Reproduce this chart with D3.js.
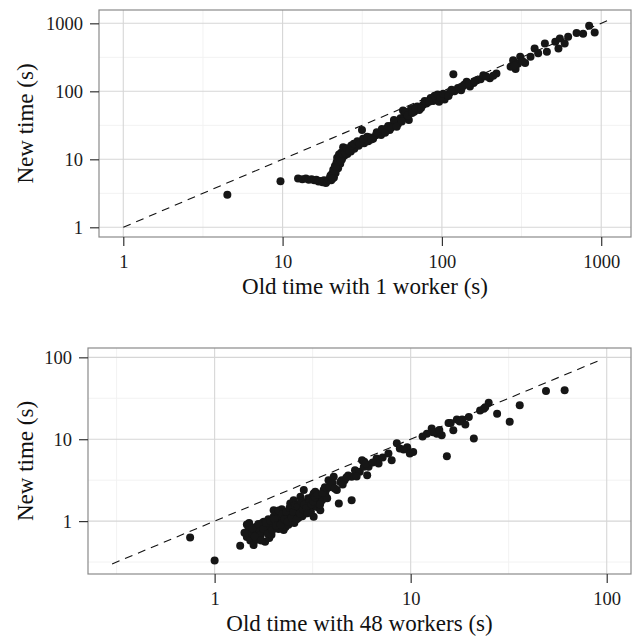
<!DOCTYPE html>
<html>
<head>
<meta charset="utf-8">
<script src="https://cdn.jsdelivr.net/npm/d3@7"></script>
<style>
  body { margin: 0; background: #fff; }
  svg { display: block; }
  text { font-family: "Liberation Serif", "Times New Roman", serif; }
</style>
</head>
<body>
<svg id="chart" width="634" height="641"></svg>
<script>
// top panel : old time with 1 worker vs new time (s)
const old1 = [4.5, 9.7, 12.5, 13.3, 14.0, 14.6, 15.2, 15.8, 16.3, 16.8, 17.3, 17.8, 18.2, 18.7, 19.1, 19.5, 19.9, 20.2, 20.5, 20.8,
  21.0, 21.3, 21.5, 21.8, 22.0, 22.3, 22.6, 23.0, 23.3, 23.6, 24.0, 24.5, 25.0, 25.5, 26.0, 26.8, 27.5, 28.2, 29.0, 30.0,
  31.0, 31.5, 32.5, 33.5, 34.5, 35.5, 37.0, 38.5, 40.0, 41.5, 43.0, 45.0, 47.0, 49.0, 51.0, 53.0, 55.0, 57.0, 58.0, 60.0,
  62.0, 64.0, 67.0, 70.0, 72.0, 76.0, 80.0, 85.0, 88.0, 92.0, 96.0, 100, 104, 108, 112, 118, 120, 126, 132, 138,
  143, 150, 158, 166, 175, 182, 200, 220, 270, 280, 290, 300, 310, 333, 360, 382, 402, 443, 456, 515,
  539, 550, 590, 620, 700, 770, 840, 910,
  20.0, 20.6, 21.2, 21.6, 22.2, 22.8, 23.2, 23.8, 24.3, 24.8, 25.3, 26.3, 27.0, 28.0, 29.5, 30.5, 32.0, 34.0, 36.0, 39.0,
  42.0, 44.0, 46.0, 48.0, 50.0, 52.0, 56.0, 59.0, 61.0, 65.0, 68.0, 74.0, 78.0, 83.0, 90.0, 94.0, 98.0, 102, 110, 115,
  135, 148, 160, 190, 210, 285, 320]
const new1 = [3.0, 4.75, 5.2, 5.1, 5.2, 5.0, 5.1, 4.9, 5.0, 4.7, 4.8, 4.6, 4.9, 4.5, 4.8, 5.0, 5.5, 4.9, 6.2, 7.0,
  5.4, 8.0, 6.3, 9.0, 10.5, 7.4, 11.8, 8.6, 12.5, 10.0, 15.0, 11.4, 13.0, 12.0, 14.2, 13.0, 15.5, 14.3, 16.5, 15.8,
  18.0, 27.0, 17.2, 19.5, 18.5, 21.0, 20.0, 22.5, 24.0, 22.8, 26.5, 28.5, 27.0, 32.0, 35.0, 33.0, 40.0, 52.0, 43.0, 47.0,
  38.0, 55.0, 50.0, 60.0, 53.0, 63.0, 66.0, 80.0, 72.0, 78.0, 70.0, 84.0, 76.0, 88.0, 95.0, 178, 100, 112, 104, 125,
  138, 118, 133, 145, 150, 172, 155, 183, 230, 287, 212, 255, 322, 260, 322, 427, 362, 506, 382, 534,
  427, 600, 506, 635, 720, 705, 920, 735,
  5.8, 5.2, 6.8, 7.8, 9.4, 10.2, 9.5, 12.0, 13.5, 12.4, 14.5, 13.2, 16.0, 17.0, 18.5, 17.0, 20.0, 21.5, 19.5, 25.0,
  28.0, 24.5, 31.0, 29.0, 38.0, 30.0, 36.0, 50.0, 44.0, 48.0, 58.0, 57.0, 72.0, 70.0, 86.0, 90.0, 80.0, 92, 85, 105,
  118, 130, 140, 165, 170, 240, 280]

// bottom panel : old time with 48 workers vs new time (s)
const old48 = [0.75, 1.0, 1.35, 1.46, 1.46, 1.49, 1.52, 1.55, 1.58, 1.62, 1.64, 1.65, 1.68, 1.70, 1.72, 1.75, 1.78, 1.80, 1.81, 1.85,
  1.88, 1.90, 1.92, 1.95, 2.0, 2.0, 2.03, 2.08, 2.10, 2.12, 2.15, 2.18, 2.2, 2.2, 2.25, 2.29, 2.30, 2.33, 2.38, 2.40,
  2.43, 2.45, 2.5, 2.53, 2.53, 2.55, 2.58, 2.60, 2.63, 2.68, 2.70, 2.74, 2.78, 2.80, 2.85, 2.88, 2.9, 2.95, 3.0, 3.02,
  3.08, 3.10, 3.14, 3.2, 3.2, 3.26, 3.30, 3.32, 3.4, 3.46, 3.5, 3.53, 3.6, 3.67, 3.70, 3.75, 3.81, 3.9, 4.05, 4.2,
  4.3, 4.38, 4.45, 4.6, 4.8, 5.0, 5.0, 5.2, 5.5, 5.65, 5.77, 5.8, 6.0, 6.1, 6.7, 6.86, 7.7, 8.0, 8.5, 8.8,
  9.6, 9.9, 10.3, 12.1, 12.8, 13.6, 14.4, 15.3, 15.6, 16.5, 17.2, 18.3, 19.0, 19.8, 21.0, 22.6, 23.6, 25.0, 27.6, 32.0,
  36.0, 49.0, 61.0,
  1.42, 1.50, 1.56, 1.60, 1.67, 1.73, 1.77, 1.83, 1.87, 1.93, 1.97, 2.02, 2.06, 2.12, 2.17, 2.22, 2.27, 2.32, 2.36, 2.41,
  2.47, 2.52, 2.57, 2.62, 2.66, 2.72, 2.76, 2.82, 2.87, 2.93, 2.98, 3.05, 3.12, 3.18, 3.25, 3.35, 3.45, 3.55, 3.65, 3.85,
  4.0, 4.1, 4.5, 4.7, 5.3, 5.9, 6.4, 7.2, 9.2, 11.5, 13.0, 14.0, 16.0, 17.8, 24.0]
const new48 = [0.63, 0.33, 0.50, 0.64, 0.91, 0.80, 0.58, 0.70, 0.51, 0.85, 0.59, 0.70, 0.81, 0.75, 0.68, 0.95, 0.98, 0.88, 0.56, 0.75,
  1.05, 0.62, 0.85, 0.68, 1.36, 1.13, 0.92, 1.03, 1.25, 0.80, 1.20, 1.10, 0.95, 1.40, 0.78, 1.18, 0.85, 1.05, 0.90, 1.15,
  1.64, 1.25, 1.00, 1.13, 1.80, 0.95, 1.40, 1.20, 1.36, 1.10, 1.60, 1.98, 1.50, 1.15, 2.39, 1.30, 1.24, 1.70, 1.90, 1.64,
  1.45, 1.30, 1.98, 2.17, 1.13, 2.28, 1.70, 1.49, 1.85, 1.36, 2.00, 1.80, 2.39, 2.10, 2.40, 1.90, 3.16, 3.0, 3.47, 2.39,
  1.64, 3.0, 3.16, 3.16, 3.6, 1.8, 3.47, 4.18, 4.0, 5.55, 4.6, 5.3, 3.64, 4.6, 5.8, 5.06, 6.7, 5.55, 8.9, 7.7,
  8.0, 6.7, 7.0, 11.7, 13.5, 11.7, 11.2, 6.2, 15.8, 12.9, 17.4, 17.4, 15.1, 18.7, 10.2, 22.5, 23.6, 27.8, 20.5, 16.3,
  26.0, 38.7, 39.6,
  0.72, 0.95, 0.82, 0.65, 0.92, 0.58, 0.80, 0.95, 0.70, 1.00, 0.78, 1.05, 0.88, 1.35, 0.90, 1.22, 1.05, 1.30, 0.98, 1.45,
  1.10, 1.30, 1.55, 1.05, 1.50, 1.25, 1.75, 1.40, 1.60, 1.45, 1.25, 1.80, 1.60, 1.75, 1.95, 2.10, 1.60, 2.20, 2.60, 2.60,
  2.90, 2.5, 2.8, 3.4, 3.5, 5.0, 5.2, 6.0, 7.5, 10.8, 12.2, 13.0, 15.8, 16.5, 24.5]

// reference lines y = x
const ref1 = [1, 1090]
const ref48 = [0.3, 91]

const ticks1 = [1, 10, 100, 1000]
const ticks48 = [1, 10, 100]

const svg = d3.select("#chart")

function drawPanel(cfg) {
  const { left, top, right, bottom } = cfg.box
  const x = d3.scaleLog().domain(cfg.xDomain).range([left, right])
  const y = d3.scaleLog().domain(cfg.yDomain).range([bottom, top])

  const g = svg.append("g")

  g.append("rect")
    .attr("x", left).attr("y", top)
    .attr("width", right - left).attr("height", bottom - top)
    .attr("fill", "#fff")

  // minor grid at half decades
  const minor = d3.range(-1, 4).map(k => Math.pow(10, k + 0.5))
  g.selectAll(".minx").data(minor.filter(v => v > x.domain()[0] && v < x.domain()[1]))
    .join("line")
    .attr("x1", d => x(d)).attr("x2", d => x(d))
    .attr("y1", top).attr("y2", bottom)
    .attr("stroke", "#f2f2f2").attr("stroke-width", 1)
  g.selectAll(".miny").data(minor.filter(v => v > y.domain()[0] && v < y.domain()[1]))
    .join("line")
    .attr("y1", d => y(d)).attr("y2", d => y(d))
    .attr("x1", left).attr("x2", right)
    .attr("stroke", "#f2f2f2").attr("stroke-width", 1)

  // major grid
  g.selectAll(".majx").data(cfg.ticks)
    .join("line")
    .attr("x1", d => x(d)).attr("x2", d => x(d))
    .attr("y1", top).attr("y2", bottom)
    .attr("stroke", "#d6d6d6").attr("stroke-width", 1.1)
  g.selectAll(".majy").data(cfg.ticks)
    .join("line")
    .attr("y1", d => y(d)).attr("y2", d => y(d))
    .attr("x1", left).attr("x2", right)
    .attr("stroke", "#d6d6d6").attr("stroke-width", 1.1)

  // dashed y = x
  g.append("line")
    .attr("x1", x(cfg.ref[0])).attr("y1", y(cfg.ref[0]))
    .attr("x2", x(cfg.ref[1])).attr("y2", y(cfg.ref[1]))
    .attr("stroke", "#111").attr("stroke-width", 1.1)
    .attr("stroke-dasharray", "8,6")

  g.selectAll("circle").data(cfg.xs.map((v, i) => [v, cfg.ys[i]]))
    .join("circle")
    .attr("cx", d => x(d[0])).attr("cy", d => y(d[1]))
    .attr("r", 4)
    .attr("fill", "#161616")

  g.append("rect")
    .attr("x", left).attr("y", top)
    .attr("width", right - left).attr("height", bottom - top)
    .attr("fill", "none").attr("stroke", "#8a8a8a").attr("stroke-width", 1.2)

  const fmt = d => String(d)

  const xAxis = g.append("g").attr("transform", `translate(0,${bottom})`)
    .call(d3.axisBottom(x).tickValues(cfg.ticks).tickFormat(fmt).tickSize(9).tickPadding(9))
  const yAxis = g.append("g").attr("transform", `translate(${left},0)`)
    .call(d3.axisLeft(y).tickValues(cfg.ticks).tickFormat(fmt).tickSize(9).tickPadding(7))

  ;[xAxis, yAxis].forEach(a => {
    a.select(".domain").remove()
    a.selectAll(".tick line").attr("stroke", "#333").attr("stroke-width", 1.2)
    a.selectAll(".tick text")
      .attr("fill", "#1a1a1a")
      .style("font-size", "18.5px")
      .style("font-family", "'Liberation Serif', 'Times New Roman', serif")
  })

  g.append("text")
    .attr("x", (left + right) / 2).attr("y", cfg.xTitleY)
    .attr("text-anchor", "middle")
    .style("font-size", "23px")
    .attr("fill", "#111")
    .text(cfg.xTitle)

  g.append("text")
    .attr("transform", `translate(${cfg.yTitleX},${(top + bottom) / 2}) rotate(-90)`)
    .attr("text-anchor", "middle")
    .style("font-size", "23px")
    .attr("fill", "#111")
    .text("New time (s)")
}

drawPanel({
  box: { left: 99, top: 10, right: 631, bottom: 237 },
  xDomain: [0.704, 1538], yDomain: [0.72, 1570],
  ticks: ticks1, ref: ref1, xs: old1, ys: new1,
  xTitle: "Old time with 1 worker (s)", xTitleY: 294, yTitleX: 33
})

drawPanel({
  box: { left: 88, top: 348, right: 631, bottom: 574 },
  xDomain: [0.226, 133], yDomain: [0.226, 130],
  ticks: ticks48, ref: ref48, xs: old48, ys: new48,
  xTitle: "Old time with 48 workers (s)", xTitleY: 631, yTitleX: 33
})
</script>
</body>
</html>
